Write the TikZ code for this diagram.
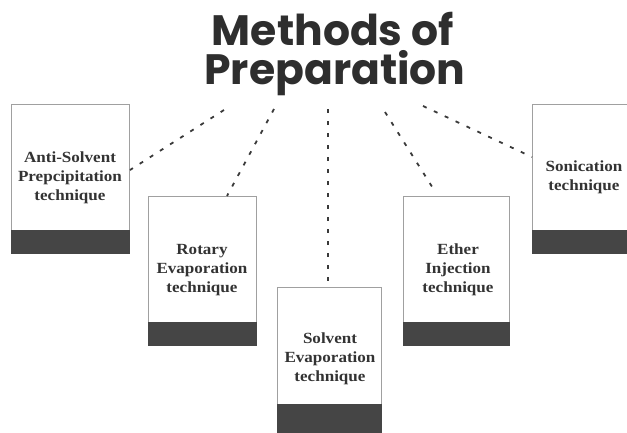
\documentclass[tikz,border=0pt]{standalone}
\usepackage{fontspec}
\setmainfont{Liberation Serif}
\newfontfamily\boxfont[FakeStretch=1.1]{Liberation Serif}
\newfontfamily\titlefont{Poppins}
\definecolor{bandc}{HTML}{454545}
\definecolor{boxline}{HTML}{A0A0A0}
\definecolor{dashc}{HTML}{3A3A3A}
\definecolor{titlec}{HTML}{2E2E2E}
\definecolor{textc}{HTML}{333333}
\begin{document}
\begin{tikzpicture}[x=1pt,y=-1pt,
  box/.style={draw=boxline, line width=1.1pt, fill=white, inner sep=0pt, anchor=north west},
  lbl/.style={align=center, inner sep=0pt, text=textc, font=\boxfont\bfseries\fontsize{15.5}{19}\selectfont},
  ttl/.style={anchor=base, inner sep=0pt, text=titlec, text height=31pt, font=\titlefont\bfseries\fontsize{42.5}{42.5}\selectfont},
  conn/.style={draw=dashc, line width=1.8pt, dash pattern=on 4pt off 8pt}]
\useasboundingbox (0,0) rectangle (627,432);
\begin{scope}
\clip (0,0) rectangle (627,432);
% title
\node[ttl, text depth=0pt] (m1) at (333,45) {Methods of};
\node[ttl, text depth=9pt] (m2) at (335,84) {Preparation};
% boxes
\node[box, minimum width=118pt, minimum height=149pt] (b1) at (11,104) {};
\node[box, minimum width=108pt, minimum height=149pt] (b2) at (148,196) {};
\node[box, minimum width=104pt, minimum height=160pt] (b3) at (277,287) {};
\node[box, minimum width=106pt, minimum height=149pt] (b4) at (403,196) {};
\node[box, minimum width=110pt, minimum height=149pt] (b5) at (532,104) {};
% bands
\fill[bandc] ([yshift=24pt]b1.south west) rectangle (b1.south east);
\fill[bandc] ([yshift=24pt]b2.south west) rectangle (b2.south east);
\fill[bandc] ([yshift=44pt]b3.south west) rectangle (b3.south east);
\fill[bandc] ([yshift=24pt]b4.south west) rectangle (b4.south east);
\fill[bandc] ([yshift=24pt]b5.south west) rectangle (b5.south east);
% labels
\node[lbl] (t1) at (70,178) {Anti-Solvent\\Prepcipitation\\technique};
\node[lbl] (t2) at (202,270) {Rotary\\Evaporation\\technique};
\node[lbl] (t3) at (330,359) {Solvent\\Evaporation\\technique};
\node[lbl] (t4) at (458,270) {Ether\\Injection\\technique};
\node[lbl] (t5) at (584,177) {Sonication\\technique};
% connector ends
\coordinate (s1) at (224,110);
\coordinate (s2) at (274,109);
\coordinate (s3) at (328,109);
\coordinate (s4) at (385,112);
\coordinate (s5) at (423,106);
\coordinate (e1) at (130,170);
\coordinate (e2) at (227,196);
\coordinate (e3) at (328,287);
\coordinate (e4) at (436,193);
\coordinate (e5) at (532,157);
\draw[conn] (s1) -- (e1);
\draw[conn] (s2) -- (e2);
\draw[conn] (s3) -- (e3);
\draw[conn] (s4) -- (e4);
\draw[conn] (s5) -- (e5);
\end{scope}
\end{tikzpicture}
\end{document}
